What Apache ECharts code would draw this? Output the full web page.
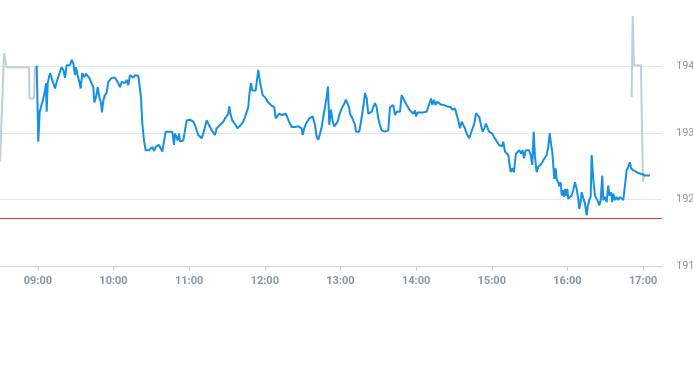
<!DOCTYPE html>
<html>
<head>
<meta charset="utf-8">
<script src="https://cdn.jsdelivr.net/npm/echarts@6/dist/echarts.min.js"></script>
<style>
html,body{margin:0;padding:0;background:#fff;}
#chart{width:693px;height:365px;}
</style>
</head>
<body>
<div id="chart"></div>
<script>
// Regular session (blue)
var blueTimes = ["08:59:06","09:00:22","09:01:29","09:03:04","09:04:20","09:05:41","09:06:29","09:07:02","09:07:50","09:09:39",
"09:11:00","09:12:16","09:13:37","09:14:58","09:16:14","09:17:35","09:18:56","09:20:12","09:21:33","09:22:53",
"09:24:10","09:25:31","09:26:52","09:28:08","09:29:29","09:30:16","09:31:37","09:32:53","09:34:00","09:35:16",
"09:36:51","09:38:12","09:39:33","09:40:49","09:42:10","09:43:59","09:44:47","09:46:08","09:47:29","09:48:45",
"09:50:05","09:50:53","09:51:55","09:53:16","09:54:37","09:55:53","09:57:14","09:58:35","09:59:51","10:01:12",
"10:02:32","10:03:49","10:05:10","10:06:31","10:07:47","10:09:08","10:10:28","10:11:44","10:13:05","10:14:26",
"10:15:43","10:17:04","10:18:24","10:19:40","10:20:28","10:21:49","10:22:50","10:24:11","10:25:32","10:26:49",
"10:28:10","10:29:31","10:30:46","10:32:07","10:33:28","10:34:44","10:36:05","10:37:26","10:38:42","10:40:03",
"10:41:24","10:42:40","10:44:01","10:45:22","10:46:38","10:47:59","10:48:47","10:50:07","10:50:55","10:51:57",
"10:52:44","10:54:05","10:55:22","10:56:43","10:58:03","10:59:19","11:00:40","11:02:01","11:03:17","11:04:38",
"11:05:59","11:07:15","11:08:36","11:09:57","11:11:13","11:12:34","11:13:55","11:15:11","11:16:32","11:17:53",
"11:19:09","11:20:30","11:21:50","11:23:07","11:24:28","11:25:49","11:27:05","11:28:26","11:29:46","11:31:02",
"11:31:50","11:32:57","11:34:13","11:35:34","11:36:55","11:38:11","11:39:32","11:40:53","11:42:08","11:42:56",
"11:44:17","11:45:38","11:46:54","11:47:41","11:49:02","11:50:04","11:51:25","11:52:46","11:53:34","11:54:50",
"11:56:11","11:57:32","11:58:19","11:59:35","12:00:56","12:02:17","12:03:33","12:04:54","12:06:15","12:07:31",
"12:08:38","12:09:54","12:11:15","12:12:36","12:13:52","12:15:13","12:16:34","12:17:50","12:19:11","12:20:32",
"12:21:19","12:22:35","12:23:56","12:25:17","12:26:33","12:27:54","12:29:15","12:30:02","12:31:19","12:32:40",
"12:34:01","12:35:16","12:36:37","12:37:58","12:39:00","12:39:48","12:41:08","12:42:25","12:43:46","12:45:07",
"12:46:23","12:47:44","12:49:04","12:50:06","12:51:08","12:52:29","12:53:50","12:55:06","12:56:27","12:57:48",
"12:59:04","13:00:25","13:01:46","13:03:02","13:04:23","13:05:44","13:06:59","13:07:33","13:08:54","13:10:10",
"13:11:31","13:12:19","13:13:40","13:14:55","13:16:16","13:17:18","13:18:25","13:19:27","13:20:47","13:22:04",
"13:23:25","13:24:46","13:26:02","13:27:23","13:28:43","13:29:59","13:31:20","13:32:41","13:33:58","13:35:19",
"13:36:39","13:37:55","13:39:16","13:40:37","13:41:53","13:43:14","13:44:35","13:45:51","13:47:12","13:48:33",
"13:49:49","13:51:10","13:52:31","13:53:47","13:55:08","13:56:29","13:57:45","13:59:06","13:59:53","14:01:14",
"14:03:04","14:05:41","14:08:22","14:09:38","14:10:59","14:11:47","14:12:49","14:14:10","14:15:31","14:16:47",
"14:18:08","14:19:29","14:20:44","14:22:05","14:23:26","14:24:43","14:26:04","14:27:25","14:28:40","14:30:01",
"14:30:49","14:32:10","14:33:26","14:34:47","14:36:08","14:37:24","14:38:45","14:40:05","14:41:22","14:42:09",
"14:43:30","14:44:51","14:46:07","14:47:28","14:48:49","14:50:05","14:51:26","14:52:47","14:54:03","14:55:24",
"14:56:26","14:57:47","14:59:08","15:00:23","15:01:44","15:03:05","15:04:22","15:05:43","15:07:04","15:08:19",
"15:09:07","15:10:28","15:11:49","15:13:05","15:13:52","15:14:59","15:16:15","15:17:36","15:18:24","15:19:11",
"15:20:32","15:21:48","15:23:09","15:24:30","15:25:32","15:26:53","15:28:09","15:29:30","15:30:51","15:32:07",
"15:33:13","15:34:16","15:35:36","15:36:52","15:38:13","15:39:34","15:40:50","15:42:11","15:43:32","15:44:48",
"15:45:55","15:46:56","15:47:58","15:48:46","15:49:34","15:50:40","15:51:28","15:52:44","15:53:31","15:54:38",
"15:55:26","15:56:13","15:57:15","15:58:03","15:58:50","15:59:52","16:00:40","16:02:01","16:03:22","16:04:38",
"16:05:59","16:07:19","16:08:35","16:09:23","16:10:30","16:11:17","16:12:34","16:13:55","16:15:15","16:16:03",
"16:17:19","16:18:26","16:19:13","16:20:29","16:21:50","16:23:11","16:24:27","16:25:14","16:26:22","16:27:37",
"16:28:25","16:29:46","16:31:07","16:32:23","16:33:10","16:34:31","16:35:33","16:36:21","16:37:42","16:39:02",
"16:40:19","16:41:40","16:43:01","16:44:17","16:45:38","16:46:58","16:48:14","16:49:35","16:50:23","16:52:13",
"16:54:54","16:57:31","16:59:40","17:01:29","17:04:06","17:05:27"];
var blueValues = [194.01,192.87,193.32,193.32,193.52,193.64,193.75,193.32,193.75,193.90,
193.90,193.75,193.67,193.77,193.84,193.92,193.99,193.95,193.83,194.02,
194.05,194.02,194.10,194.05,193.87,193.99,193.87,193.77,193.67,193.90,
193.84,193.89,193.90,193.83,193.84,193.69,193.46,193.54,193.69,193.54,
193.45,193.31,193.49,193.57,193.61,193.77,193.77,193.83,193.84,193.83,
193.84,193.75,193.69,193.77,193.75,193.75,193.80,193.72,193.87,193.90,
193.83,193.87,193.84,193.86,193.84,193.54,193.15,192.89,192.74,192.77,
192.74,192.77,192.79,192.73,192.79,192.77,192.82,192.77,192.72,192.87,
193.02,193.00,193.02,192.99,193.02,192.82,192.99,193.02,192.89,192.99,
192.87,192.89,192.89,192.92,193.19,193.17,193.20,193.19,193.17,193.12,
193.04,192.97,192.94,192.92,192.99,193.09,193.19,193.14,193.09,193.04,
193.07,192.97,193.07,193.07,193.12,193.09,193.17,193.22,193.24,193.29,
193.40,193.27,193.19,193.17,193.12,193.07,193.09,193.12,193.12,193.17,
193.24,193.27,193.39,193.57,193.75,193.64,193.66,193.64,193.62,193.95,
193.77,193.75,193.57,193.60,193.52,193.47,193.44,193.42,193.41,193.39,
193.22,193.22,193.29,193.30,193.27,193.27,193.29,193.24,193.17,193.14,
193.09,193.12,193.09,193.09,193.10,193.09,193.07,192.97,193.07,193.14,
193.17,193.22,193.25,193.25,193.24,193.12,192.94,192.90,192.99,193.09,
193.24,193.39,193.54,193.70,193.12,193.35,193.17,193.10,193.07,193.17,
193.27,193.34,193.40,193.44,193.50,193.44,193.37,193.29,193.24,193.19,
193.12,193.02,193.02,193.02,193.17,193.29,193.44,193.60,193.52,193.29,
193.27,193.32,193.39,193.45,193.39,193.22,193.12,193.04,193.02,193.02,
193.02,193.04,193.39,193.39,193.42,193.27,193.32,193.29,193.32,193.57,
193.52,193.47,193.42,193.39,193.34,193.32,193.29,193.34,193.25,193.31,
193.31,193.31,193.32,193.35,193.47,193.52,193.42,193.50,193.42,193.47,
193.49,193.43,193.45,193.42,193.42,193.40,193.38,193.39,193.35,193.32,
193.37,193.34,193.19,193.07,193.17,193.19,193.07,192.99,192.99,192.92,
193.00,193.00,193.14,193.30,193.29,193.24,193.12,193.02,193.07,193.14,
193.16,193.02,193.00,192.99,192.94,192.90,192.87,192.82,192.82,192.80,
192.87,192.72,192.74,192.67,192.56,192.41,192.47,192.41,192.56,192.69,
192.67,192.74,192.69,192.74,192.62,192.74,192.77,192.74,192.67,192.52,
193.02,192.64,192.41,192.49,192.49,192.54,192.59,192.62,192.67,192.79,
193.00,192.84,192.72,192.52,192.31,192.47,192.30,192.26,192.20,192.26,
192.06,192.14,192.04,192.16,192.06,192.16,192.01,192.01,192.06,192.14,
192.26,192.16,192.01,191.86,191.96,192.11,192.09,191.94,191.76,191.89,
191.99,192.04,192.67,192.31,192.06,192.01,191.96,191.91,191.99,192.36,
191.99,192.04,191.96,192.21,192.06,192.11,191.96,192.09,191.99,192.04,
191.99,192.04,192.06,191.99,191.96,192.44,192.49,192.56,192.47,192.44,
192.41,192.39,192.38,192.36,192.36,192.36];

// Extended hours (grey): pre-market and post-market segments
var greyPreTimes = ["08:30:00","08:33:10","08:35:09","08:53:00","08:53:24","08:56:58","08:57:45","08:59:06"];
var greyPreValues = [192.57,194.20,193.99,193.99,193.52,193.52,193.99,194.01];
var greyPostTimes = ["16:50:56","16:51:44","16:52:46","16:58:19","16:59:54","17:00:42"];
var greyPostValues = [193.54,194.76,194.02,194.02,192.26,192.36];

var prevClose = 191.72;
var hourTicks = ["09:00","10:00","11:00","12:00","13:00","14:00","15:00","16:00","17:00"];
var yTicks = [191,192,193,194];

function toMin(s){var p=s.split(':');return (+p[0])*60+(+p[1])+(p[2]?(+p[2])/60:0);}
function fmt(m){var h=Math.floor(m/60),mm=Math.round(m-h*60);return (h<10?'0':'')+h+':'+(mm<10?'0':'')+mm;}
function pairs(t,v){return t.map(function(s,i){return [toMin(s),v[i]];});}

var hourVals = hourTicks.map(toMin);
var greyStyle = {color:'#c3cdd5',width:2};
var chart = echarts.init(document.getElementById('chart'));
chart.setOption({
  animation:false,
  grid:{left:0,right:31,top:0,bottom:99,containLabel:false,outerBoundsMode:'none'},
  xAxis:{
    type:'value', min:toMin("08:30"), max:toMin("17:15"),
    axisLine:{show:true,lineStyle:{color:'#ccd6dd',width:1}},
    axisTick:{show:true,customValues:hourVals,length:5,lineStyle:{color:'#ccd6dd'}},
    axisLabel:{customValues:hourVals,formatter:function(v){return fmt(v);},color:'#8a96a2',fontSize:11,fontWeight:'bold',fontFamily:'Roboto, sans-serif',margin:10,hideOverlap:false},
    splitLine:{show:false}
  },
  yAxis:{
    type:'value', position:'right', min:191, max:195, interval:1,
    axisLine:{show:false}, axisTick:{show:false},
    axisLabel:{color:'#8a96a2',fontSize:11,margin:14,showMaxLabel:false,fontFamily:'Roboto, sans-serif',
      formatter:function(v){return yTicks.indexOf(v)>=0?String(v):'';}},
    splitLine:{show:true,showMaxLine:false,lineStyle:{color:'#e3e8ec',width:1}}
  },
  series:[
    {type:'line',data:pairs(greyPreTimes,greyPreValues),showSymbol:false,z:2,
     lineStyle:greyStyle,itemStyle:{color:'#c3cdd5'}},
    {type:'line',data:pairs(greyPostTimes,greyPostValues),showSymbol:false,z:2,
     lineStyle:greyStyle,itemStyle:{color:'#c3cdd5'}},
    {type:'line',data:pairs(blueTimes,blueValues),showSymbol:false,z:3,
     lineStyle:{color:'#1690e2',width:2},itemStyle:{color:'#1690e2'},
     markLine:{silent:true,symbol:['none','none'],label:{show:false},
       lineStyle:{color:'#e0312d',width:1,type:'solid'},data:[{yAxis:prevClose}]}}
  ]
});
</script>
</body>
</html>
